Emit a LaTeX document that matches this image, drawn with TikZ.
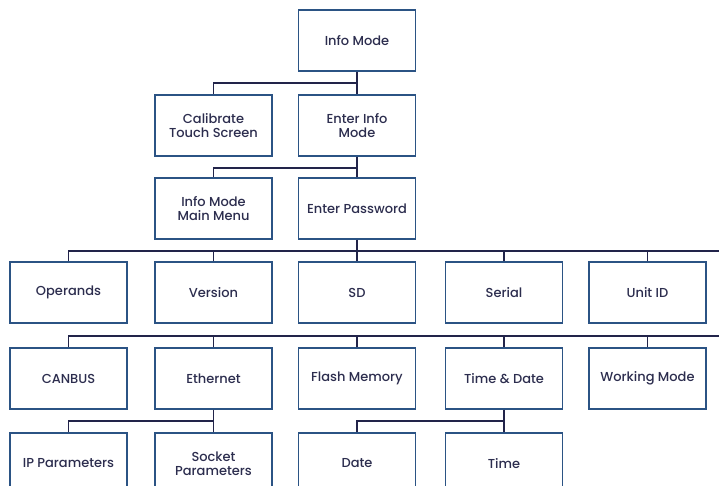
\documentclass[tikz,border=0pt]{standalone}
\usepackage{fontspec}
\setmainfont{Poppins}[UprightFont={* Medium}]
\definecolor{boxc}{HTML}{2B5384}
\definecolor{linec}{HTML}{22244A}
\definecolor{textc}{HTML}{2C2D4E}
\begin{document}
\begin{tikzpicture}[x=1pt,y=-1pt,
  box/.style={draw=boxc,line width=1.4pt,minimum width=117pt,minimum height=61pt,
    align=center,inner sep=0pt,text=textc,font=\fontsize{13}{14.5}\selectfont},
  conn/.style={draw=linec,line width=1.6pt}]
\useasboundingbox (0,0) rectangle (719,485);
\clip (0,0) rectangle (719,485);
% row 1
\node[box] (info) at (357,40.5) {Info Mode};
% row 2
\node[box] (calib) at (213.5,125.5) {Calibrate\\Touch Screen};
\node[box] (enter) at (357,125.5) {Enter Info\\Mode};
% row 3
\node[box] (mainmenu) at (213.5,208.5) {Info Mode\\Main Menu};
\node[box] (pass) at (357,208.5) {Enter Password};
% row 4
\node[box] (operands) at (68.5,292.5) {Operands};
\node[box] (version) at (213.5,292.5) {Version};
\node[box] (sd) at (357,292.5) {SD};
\node[box] (serial) at (504,292.5) {Serial};
\node[box] (unitid) at (647.5,292.5) {Unit ID};
% row 5
\node[box] (canbus) at (68.5,378.5) {CANBUS};
\node[box] (ethernet) at (213.5,378.5) {Ethernet};
\node[box] (flash) at (357,378.5) {Flash Memory};
\node[box] (timedate) at (504,378.5) {Time \& Date};
\node[box] (working) at (647.5,378.5) {Working Mode};
% row 6
\node[box] (ip) at (68.5,463.5) {IP Parameters};
\node[box] (socket) at (213.5,463.5) {Socket\\Parameters};
\node[box] (date) at (357,463.5) {Date};
\node[box] (time) at (504,463.5) {Time};
% free ends of the long buses
\coordinate (busA) at (722,251);
\coordinate (busB) at (722,336);
% connectors
\draw[conn] (info.south) -- (enter.north);
\draw[conn] (info.south) ++(0,11.5) -| (calib.north);
\draw[conn] (enter.south) -- (pass.north);
\draw[conn] (enter.south) ++(0,11) -| (mainmenu.north);
\draw[conn] (pass.south) -- (sd.north);
\draw[conn] (busA) -| (operands.north);
\draw[conn] (version.north) -- (version.north |- busA);
\draw[conn] (serial.north) -- (serial.north |- busA);
\draw[conn] (unitid.north) -- (unitid.north |- busA);
\draw[conn] (busB) -| (canbus.north);
\draw[conn] (ethernet.north) -- (ethernet.north |- busB);
\draw[conn] (flash.north) -- (flash.north |- busB);
\draw[conn] (timedate.north) -- (timedate.north |- busB);
\draw[conn] (working.north) -- (working.north |- busB);
\draw[conn] (ethernet.south) -- (socket.north);
\draw[conn] (ethernet.south) ++(0,11.5) -| (ip.north);
\draw[conn] (timedate.south) -- (time.north);
\draw[conn] (timedate.south) ++(0,11.5) -| (date.north);
\end{tikzpicture}
\end{document}
